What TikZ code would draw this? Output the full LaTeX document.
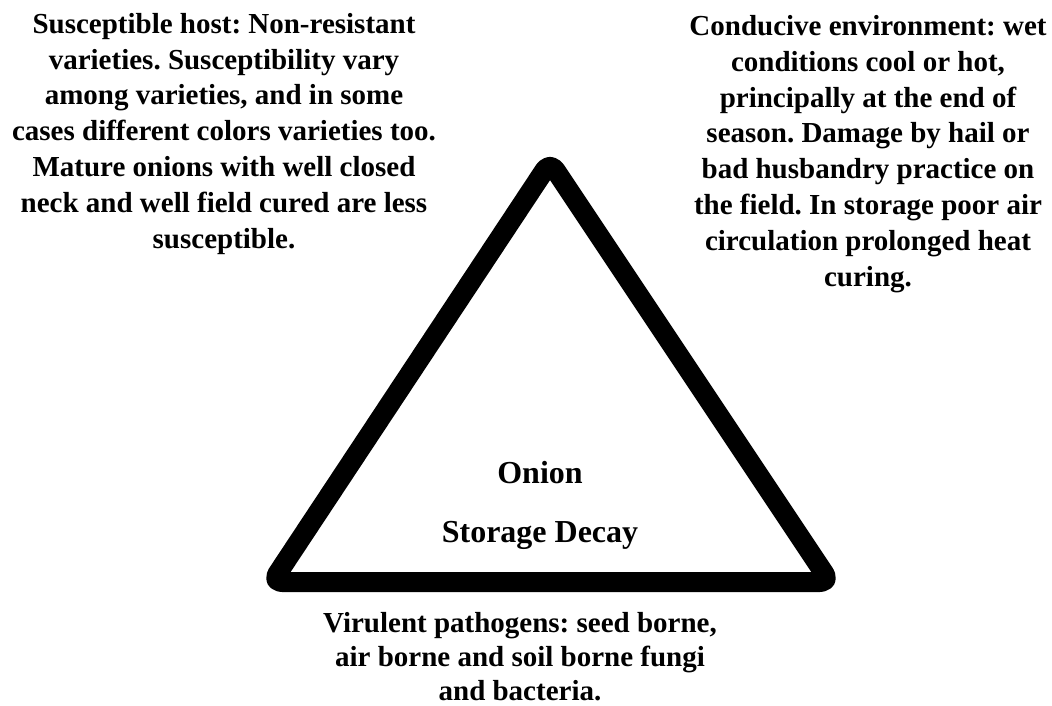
\documentclass[tikz,border=0pt]{standalone}
\usepackage{fontspec}
\setmainfont{Liberation Serif}
\frenchspacing
\begin{document}
\frenchspacing
\begin{tikzpicture}[x=1pt,y=-1pt,
  blk/.style={align=center,inner sep=0pt,anchor=base,font=\bfseries\fontsize{29}{35.8}\selectfont},
  blkb/.style={align=center,inner sep=0pt,anchor=base,font=\bfseries\fontsize{29}{34}\selectfont},
  lbl/.style={inner sep=0pt,anchor=base,font=\bfseries\fontsize{32}{38}\selectfont}]
\useasboundingbox (0,0) rectangle (1052,706);
\coordinate (apex) at (550,162);
\coordinate (bl) at (272,582);
\coordinate (br) at (830,582);
\draw[line width=20pt,line join=round,rounded corners=10pt] (bl) -- (apex) -- (br) -- cycle;
\node[blk] (host) at (224,248) {Susceptible host: Non-resistant\\varieties. Susceptibility vary\\among varieties, and in some\\cases different colors varieties too.\\Mature onions with well closed\\neck and well field cured are less\\susceptible.};
\node[blk] (env) at (868,286) {Conducive environment: wet\\conditions cool or hot,\\principally at the end of\\season. Damage by hail or\\bad husbandry practice on\\the field. In storage poor air\\circulation prolonged heat\\curing.};
\node[blkb] (path) at (520,700) {Virulent pathogens: seed borne,\\air borne and soil borne fungi\\and bacteria.};
\node[lbl] (onion) at (540,483) {Onion};
\node[lbl] (decay) at (540,542) {Storage Decay};
\end{tikzpicture}
\end{document}
